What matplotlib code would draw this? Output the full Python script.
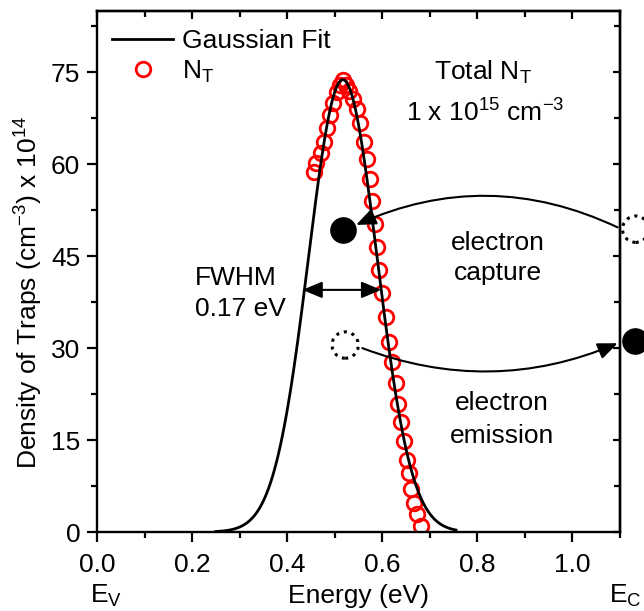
import numpy as np
import matplotlib.pyplot as plt
from matplotlib.ticker import MultipleLocator, FormatStrFormatter

plt.rcParams['font.family'] = ['Liberation Sans', 'DejaVu Sans']
plt.rcParams['mathtext.fontset'] = 'custom'
plt.rcParams['mathtext.rm'] = 'Liberation Sans'
plt.rcParams['mathtext.it'] = 'Liberation Sans:italic'
plt.rcParams['mathtext.default'] = 'regular'
plt.rcParams['font.size'] = 19

# extracted trap density N_T (energy in eV, density in 1e14 cm^-3)
energy = np.array([0.457, 0.461, 0.471, 0.477, 0.484, 0.490, 0.497, 0.504, 0.511, 0.517,
                   0.524, 0.531, 0.538, 0.546, 0.553, 0.561, 0.567, 0.574, 0.579, 0.585,
                   0.589, 0.594, 0.599, 0.607, 0.614, 0.620, 0.628, 0.633, 0.639, 0.646,
                   0.651, 0.657, 0.661, 0.666, 0.673, 0.681])
density = np.array([58.8, 60.2, 61.8, 63.6, 65.9, 68.1, 70.0, 71.8, 73.0, 73.7,
                    73.0, 72.0, 70.6, 69.0, 66.7, 63.6, 60.8, 57.6, 54.0, 50.3,
                    46.5, 42.7, 39.0, 35.1, 31.0, 27.8, 24.3, 20.9, 18.0, 14.8,
                    11.7, 9.6, 7.0, 4.8, 3.0, 1.0])

# gaussian fit
fit_peak = 73.8
fit_center = 0.517
fit_fwhm = 0.17
fit_range = (0.25, 0.755)

xticks = [0.0, 0.2, 0.4, 0.6, 0.8, 1.0]
yticks = [0, 15, 30, 45, 60, 75]

sigma = fit_fwhm / (2 * np.sqrt(2 * np.log(2)))
xf = np.linspace(fit_range[0], fit_range[1], 400)
yf = fit_peak * np.exp(-(xf - fit_center) ** 2 / (2 * sigma ** 2))

fig = plt.figure(figsize=(6.44, 6.11), dpi=100)
ax = fig.add_axes([97 / 644, 1 - 532 / 611, 523 / 644, 521 / 611])

ax.plot(xf, yf, color='black', lw=2.0, label='Gaussian Fit', zorder=3)
ax.plot(energy, density, 'o', ms=10.5, mfc='none', mec='red', mew=2.0,
        label=r'N$_T$', zorder=2)

ax.set_xlim(0, 1.1)
ax.set_ylim(0, 85)
ax.set_xticks(xticks)
ax.set_yticks(yticks)
ax.xaxis.set_minor_locator(MultipleLocator(0.1))
ax.yaxis.set_minor_locator(MultipleLocator(7.5))
ax.xaxis.set_major_formatter(FormatStrFormatter('%.1f'))
ax.tick_params(which='both', direction='out', width=1.6)
ax.tick_params(which='major', length=7, pad=5)
ax.tick_params(axis='x', which='major', pad=8)
ax.tick_params(which='minor', length=4)
for s in ax.spines.values():
    s.set_linewidth(1.7)

# mirrored ticks pointing inward on top and right
top = ax.secondary_xaxis('top')
top.set_xticks(xticks)
top.xaxis.set_minor_locator(MultipleLocator(0.1))
top.tick_params(which='both', direction='in', labeltop=False, width=1.6)
top.tick_params(which='major', length=6)
top.tick_params(which='minor', length=4)
top.spines['top'].set_linewidth(1.7)
right = ax.secondary_yaxis('right')
right.set_yticks(yticks)
right.yaxis.set_minor_locator(MultipleLocator(7.5))
right.tick_params(which='both', direction='in', labelright=False, width=1.6)
right.tick_params(which='major', length=5)
right.tick_params(which='minor', length=4)
right.spines['right'].set_linewidth(1.7)

ax.set_xlabel('Energy (eV)')
ax.xaxis.set_label_coords(0.5, -0.1)
ax.set_ylabel(r'Density of Traps (cm$^{-3}$) x 10$^{14}$')
ax.yaxis.set_label_coords(-0.1, 0.46)

ax.text(0.017, -0.136, r'E$_V$', transform=ax.transAxes, ha='center', va='baseline')
ax.text(1.011, -0.136, r'E$_C$', transform=ax.transAxes, ha='center', va='baseline')

ax.legend(loc='upper left', bbox_to_anchor=(0.029, 0.965), frameon=False,
          handlelength=2.3, handletextpad=0.35, labelspacing=0.2,
          borderpad=0, borderaxespad=0)

ax.text(0.738, 0.868, r'Total N$_T$', transform=ax.transAxes, ha='center', va='baseline')
ax.text(0.742, 0.787, r'1 x 10$^{15}$ cm$^{-3}$', transform=ax.transAxes,
        ha='center', va='baseline')
ax.text(0.767, 0.541, 'electron', transform=ax.transAxes, ha='center', va='baseline')
ax.text(0.767, 0.484, 'capture', transform=ax.transAxes, ha='center', va='baseline')
ax.text(0.774, 0.234, 'electron', transform=ax.transAxes, ha='center', va='baseline')
ax.text(0.774, 0.171, 'emission', transform=ax.transAxes, ha='center', va='baseline')
ax.text(0.187, 0.474, 'FWHM', transform=ax.transAxes, ha='left', va='baseline')
ax.text(0.187, 0.415, '0.17 eV', transform=ax.transAxes, ha='left', va='baseline')

# FWHM marker
ax.annotate('', xy=(0.598, 39.5), xytext=(0.432, 39.5),
            arrowprops=dict(arrowstyle='<|-|>,head_length=0.6,head_width=0.25',
                            lw=1.5, color='black', shrinkA=0, shrinkB=0,
                            mutation_scale=20))

# electrons: filled = occupied, dotted = empty
ax.scatter([0.518, 1.131], [49.2, 31.1], s=330, color='black', clip_on=False, zorder=4)
ax.scatter([0.522, 1.133], [30.5, 49.4], s=360, facecolors='none', edgecolors='black',
           linewidths=2.2, linestyles=(0, (1, 1.6)), clip_on=False, zorder=4)

# capture and emission paths
ax.annotate('', xy=(0.545, 50.1), xytext=(1.095, 49.7), annotation_clip=False,
            arrowprops=dict(arrowstyle='-|>,head_length=0.6,head_width=0.25',
                            connectionstyle='arc3,rad=0.23', lw=1.5, color='black',
                            shrinkA=0, shrinkB=0, mutation_scale=20))
ax.annotate('', xy=(1.095, 30.8), xytext=(0.558, 30.0), annotation_clip=False,
            arrowprops=dict(arrowstyle='-|>,head_length=0.6,head_width=0.25',
                            connectionstyle='arc3,rad=0.2', lw=1.5, color='black',
                            shrinkA=0, shrinkB=0, mutation_scale=20))

fig.savefig('out.png', dpi=100)
